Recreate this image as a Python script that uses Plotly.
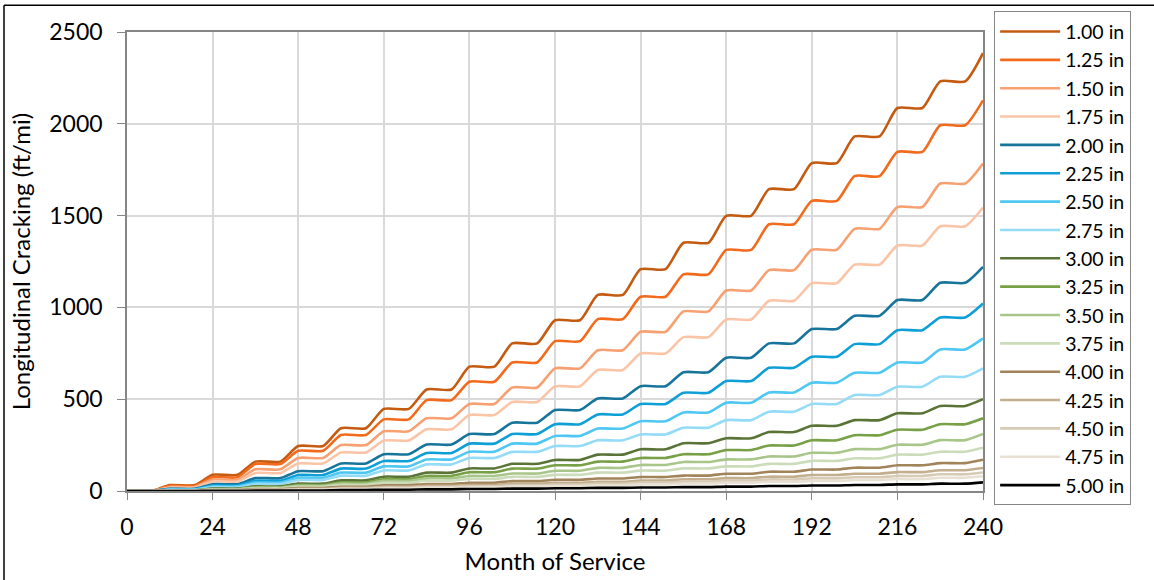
import plotly.graph_objects as go

# Month at the end of each service year (0 .. 240)
YEAR_END_MONTHS = list(range(0, 241, 12))
# Cracking grows over the warm part of each year: a hold from month 12k to 12k+7,
# then a rise to the year-end value at 12k+12.
HOLD_MONTHS = 7

SERIES_NAMES = ["1.00 in", "1.25 in", "1.50 in", "1.75 in", "2.00 in", "2.25 in",
                "2.50 in", "2.75 in", "3.00 in", "3.25 in", "3.50 in", "3.75 in",
                "4.00 in", "4.25 in", "4.50 in", "4.75 in", "5.00 in"]

# Longitudinal cracking (ft/mi) at each year end, one list per thickness
crack_100 = [0, 32, 88, 160, 245, 342, 447, 553, 677, 804, 930, 1068, 1208, 1352, 1499, 1644, 1786, 1931, 2086, 2231, 2385]
crack_125 = [0, 28, 75, 147, 219, 305, 390, 495, 595, 700, 816, 936, 1058, 1180, 1313, 1453, 1580, 1715, 1847, 1992, 2128]
crack_150 = [0, 22, 62, 118, 180, 250, 325, 396, 474, 564, 668, 767, 867, 978, 1092, 1203, 1314, 1428, 1547, 1675, 1784]
crack_175 = [0, 18, 52, 98, 150, 210, 275, 336, 414, 485, 570, 659, 749, 838, 934, 1036, 1132, 1233, 1337, 1442, 1544]
crack_200 = [0, 12, 37, 70, 108, 150, 200, 253, 310, 372, 441, 504, 571, 647, 726, 804, 882, 954, 1040, 1134, 1221]
crack_225 = [0, 10, 30, 56, 87, 122, 163, 207, 258, 310, 364, 417, 474, 535, 599, 671, 731, 800, 876, 945, 1021]
crack_250 = [0, 8, 25, 46, 72, 100, 134, 172, 214, 258, 300, 340, 380, 428, 481, 537, 590, 644, 700, 771, 831]
crack_275 = [0, 6, 20, 38, 60, 83, 112, 145, 180, 213, 245, 276, 308, 345, 386, 432, 474, 523, 568, 622, 668]
crack_300 = [0, 4, 13, 25, 40, 58, 78, 100, 123, 148, 169, 198, 227, 260, 287, 321, 355, 386, 423, 463, 500]
crack_325 = [0, 3, 11, 21, 33, 47, 64, 82, 102, 122, 140, 160, 180, 200, 223, 248, 276, 304, 334, 364, 396]
crack_350 = [0, 3, 9, 18, 28, 40, 55, 69, 82, 95, 110, 126, 142, 158, 172, 188, 208, 228, 252, 277, 311]
crack_375 = [0, 2, 8, 15, 23, 33, 45, 56, 66, 77, 88, 100, 111, 123, 134, 148, 164, 178, 198, 214, 236]
crack_400 = [0, 2, 5, 10, 16, 23, 31, 38, 45, 54, 61, 68, 76, 84, 94, 105, 117, 127, 140, 152, 170]
crack_425 = [0, 1, 4, 7, 12, 17, 23, 28, 33, 40, 45, 50, 57, 64, 70, 78, 87, 94, 103, 113, 125]
crack_450 = [0, 1, 3, 6, 9, 13, 18, 22, 26, 31, 35, 40, 46, 52, 57, 63, 69, 75, 82, 91, 101]
crack_475 = [0, 1, 2, 4, 7, 10, 14, 17, 20, 24, 27, 31, 36, 41, 45, 50, 55, 60, 65, 72, 80]
crack_500 = [0, 0, 1, 2, 3, 5, 7, 9, 11, 13, 15, 17, 19, 21, 24, 27, 30, 33, 36, 40, 47]

SERIES_VALUES = [crack_100, crack_125, crack_150, crack_175, crack_200, crack_225,
                 crack_250, crack_275, crack_300, crack_325, crack_350, crack_375,
                 crack_400, crack_425, crack_450, crack_475, crack_500]

SERIES_COLORS = ["#C55A11", "#F26B1D", "#F7A072", "#FBC4A6",
                 "#17759C", "#0E9FD6", "#4FC7F3", "#93DBF7",
                 "#5A7437", "#78A046", "#A9C68A", "#CCDCBA",
                 "#A2845A", "#C3AE8D", "#D8CBB6", "#E8E0D3",
                 "#000000"]

X_TICKS = list(range(0, 241, 24))
Y_TICKS = list(range(0, 2501, 500))


def step_path(values):
    """Knots for a yearly hold-then-rise curve from year-end values."""
    xs, ys = [], []
    for i, (m, v) in enumerate(zip(YEAR_END_MONTHS, values)):
        xs.append(m)
        ys.append(v)
        if i < len(values) - 1:
            xs.append(m + HOLD_MONTHS)
            ys.append(v)
    return xs, ys


fig = go.Figure()
for name, vals, col in zip(SERIES_NAMES, SERIES_VALUES, SERIES_COLORS):
    xs, ys = step_path(vals)
    fig.add_trace(go.Scatter(
        x=xs, y=ys, name=name, mode="lines",
        line=dict(color=col, width=2.6, shape="spline", smoothing=0.6),
    ))

FONT = "Lato, 'Open Sans', sans-serif"
AXIS_GREY = "#868686"
GRID_GREY = "#D9D9D9"

fig.update_layout(
    width=1154, height=580,
    margin=dict(l=127, r=171, t=32, b=89, autoexpand=False),
    paper_bgcolor="white", plot_bgcolor="white",
    font=dict(family=FONT, size=23, color="black"),
    showlegend=True,
    legend=dict(
        x=1.013, y=1.045, xanchor="left", yanchor="top",
        bordercolor=AXIS_GREY, borderwidth=1, bgcolor="white",
        font=dict(family=FONT, size=19.5, color="black"),
        itemwidth=60, tracegroupgap=0, maxheight=560,
        entrywidth=140, entrywidthmode="pixels",
    ),
    xaxis=dict(
        range=[0, 240], tickvals=X_TICKS, ticks="outside", ticklen=7,
        tickcolor=AXIS_GREY, showline=True, linecolor=AXIS_GREY, linewidth=1.5,
        mirror=True, showgrid=True, gridcolor=GRID_GREY, gridwidth=1.5,
        zeroline=False, tickfont=dict(size=23), ticklabelstandoff=8,
        automargin=False,
        title=dict(text="Month of Service", font=dict(size=24), standoff=14),
    ),
    yaxis=dict(
        range=[0, 2500], tickvals=Y_TICKS, ticks="outside", ticklen=8,
        tickcolor=AXIS_GREY, showline=True, linecolor=AXIS_GREY, linewidth=1.5,
        mirror=True, showgrid=True, gridcolor=GRID_GREY, gridwidth=1.5,
        zeroline=False, tickfont=dict(size=23), ticklabelstandoff=10,
        automargin=False,
        title=dict(text="Longitudinal Cracking (ft/mi)", font=dict(size=24), standoff=12),
    ),
    shapes=[
        # frame lines along the left and top of the figure
        dict(type="line", xref="paper", yref="paper", x0=-0.1437, x1=-0.1437,
             y0=1.0581, y1=-0.25, line=dict(color="black", width=1.5)),
        dict(type="line", xref="paper", yref="paper", x0=-0.1437, x1=1.25,
             y0=1.0581, y1=1.0581, line=dict(color="black", width=1.5)),
    ],
)

fig.write_html("out.html")
